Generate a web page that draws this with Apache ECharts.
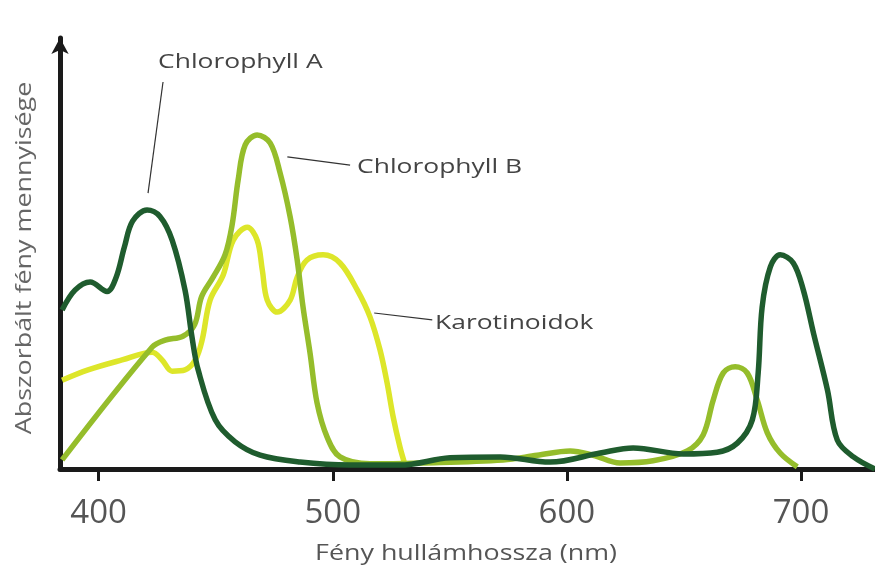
<!DOCTYPE html>
<html>
<head>
<meta charset="utf-8">
<script src="https://cdn.jsdelivr.net/npm/echarts@6/dist/echarts.min.js"></script>
<style>
html,body{margin:0;padding:0;background:#fff;}
#chart{width:875px;height:569px;}
</style>
</head>
<body>
<div id="chart"></div>
<script>
// Wavelength (nm) / relative absorption (0-100)
const seriesNames = ['Chlorophyll A', 'Chlorophyll B', 'Karotinoidok'];
const tickValues = [400, 500, 600, 700];
const xTitle = 'Fény hullámhossza (nm)';
const yTitle = 'Abszorbált fény mennyisége';

const chlA = [
  [384.4,36.9],[389.9,41.5],[396.4,43.4],[403.6,41.2],[407.5,44.5],[411.0,51.5],[414.5,57.5],
  [420.7,60.1],[426.2,58.6],[431.4,53.1],[436.9,41.5],[439.9,30.5],[442.5,23.0],[449.8,11.4],
  [458.3,6.3],[469.0,3.2],[486.0,1.6],[507.4,0.9],[528.7,0.9],[550.1,2.6],[571.5,2.8],
  [592.8,1.6],[614.2,3.7],[628.3,4.9],[649.6,3.5],[664.2,3.9],[672.8,6.0],[679.2,11.4],
  [681.7,22.3],[683.4,37.6],[686.9,46.9],[691.1,49.7],[696.7,47.8],[701.0,41.5],[705.3,31.6],
  [711.3,18.3],[715.5,6.7],[722.4,2.8],[731.6,0]
];
const chlB = [
  [384.4,2.1],[422.9,28.3],[428.4,29.9],[436.0,30.8],[441.0,33.5],[444.0,40.0],[448.9,44.5],
  [454.0,49.7],[457.0,56.6],[459.6,67.1],[462.6,75.2],[467.7,77.5],[473.3,75.6],[477.5,68.7],
  [481.8,58.5],[484.8,48.5],[487.3,37.6],[490.3,26.9],[493.3,15.3],[497.6,7.4],[503.1,2.8],
  [515.9,1.2],[537.3,1.4],[572.7,2.1],[587.3,3.2],[601.4,4.2],[611.2,3.2],[622.7,1.4],
  [636.8,1.9],[651.4,4.2],[658.2,7.9],[662.5,16.0],[666.8,22.3],[671.9,23.7],[677.0,22.3],
  [681.3,16.0],[685.6,8.4],[691.1,3.7],[698.4,0.5]
];
const karot = [
  [384.4,20.6],[395.5,23.0],[410.0,25.3],[422.9,27.1],[427.1,25.3],[431.4,22.7],[436.9,23.0],
  [441.3,25.3],[444.2,29.9],[447.6,39.2],[453.2,45.0],[457.5,53.1],[463.5,56.1],[467.7,53.1],
  [469.9,46.2],[472.0,39.2],[476.3,36.4],[481.8,39.2],[484.8,44.5],[489.0,48.5],[495.9,49.7],
  [503.1,47.8],[510.5,41.5],[515.9,35.3],[520.2,27.6],[523.2,20.0],[525.8,12.1],[528.7,5.1],
  [530.9,0.9]
];

// annotation anchors in data coordinates: leader start, leader end, text anchor
const annotations = [
  {text: seriesNames[0], from: [421.1,64.0], to: [427.5,89.8], at: [425.4,94.4]},
  {text: seriesNames[1], from: [480.6,72.4], to: [507.4,70.5], at: [510.4,70.1]},
  {text: seriesNames[2], from: [517.7,36.2], to: [542.5,34.6], at: [543.7,33.9]}
];

const colors = {A: '#1f5c2e', B: '#95bd2b', K: '#dde62a'};
const FONT = '"Open Sans", "DejaVu Sans", sans-serif';

const chart = echarts.init(document.getElementById('chart'), null, {renderer: 'canvas'});
const lineCommon = {type: 'line', showSymbol: false, smooth: 0.35, silent: true};
chart.setOption({
  animation: false,
  backgroundColor: '#fff',
  grid: {left: 60, right: 0, top: 38, bottom: 100},
  xAxis: {
    type: 'value', min: 383.5, max: 731.6,
    axisLine: {show: true, onZero: false, lineStyle: {color: '#1a1a1a', width: 5}},
    axisTick: {show: true, customValues: tickValues, length: 12, lineStyle: {color: '#1a1a1a', width: 3}},
    axisLabel: {show: true, customValues: tickValues, margin: 28, fontFamily: FONT, fontSize: 33, color: '#555'},
    splitLine: {show: false}
  },
  yAxis: {
    type: 'value', min: 0, max: 100,
    axisLine: {show: true, symbol: ['none', 'arrow'], symbolSize: [13, 16], lineStyle: {color: '#1a1a1a', width: 5}},
    axisTick: {show: false}, axisLabel: {show: false}, splitLine: {show: false}
  },
  series: [
    Object.assign({name: seriesNames[2], data: karot, lineStyle: {color: colors.K, width: 5.5}, itemStyle: {color: colors.K}}, lineCommon),
    Object.assign({name: seriesNames[1], data: chlB, lineStyle: {color: colors.B, width: 5.5}, itemStyle: {color: colors.B}}, lineCommon),
    Object.assign({name: seriesNames[0], data: chlA, lineStyle: {color: colors.A, width: 5.5}, itemStyle: {color: colors.A}}, lineCommon)
  ]
});

const px = (p) => chart.convertToPixel({gridIndex: 0}, p);
const graphics = [];
annotations.forEach((a) => {
  const f = px(a.from), t = px(a.to), at = px(a.at);
  graphics.push({type: 'line', shape: {x1: f[0], y1: f[1], x2: t[0], y2: t[1]}, style: {stroke: '#333', lineWidth: 1.2}, z: 10});
  graphics.push({type: 'text', x: at[0], y: at[1], scaleX: 1.32,
    style: {text: a.text, fontFamily: FONT, fontSize: 20, fill: '#444', verticalAlign: 'middle', align: 'left'}, z: 10});
});
// axis titles
graphics.push({type: 'text', x: 466, y: 554, scaleX: 1.22,
  style: {text: xTitle, fontFamily: FONT, fontSize: 22, fill: '#555', align: 'center', verticalAlign: 'middle'}, z: 10});
graphics.push({type: 'text', x: 25, y: 258, rotation: Math.PI / 2, scaleX: 1.28,
  style: {text: yTitle, fontFamily: FONT, fontSize: 21, fill: '#666', align: 'center', verticalAlign: 'middle'}, z: 10});
chart.setOption({graphic: graphics});
</script>
</body>
</html>
